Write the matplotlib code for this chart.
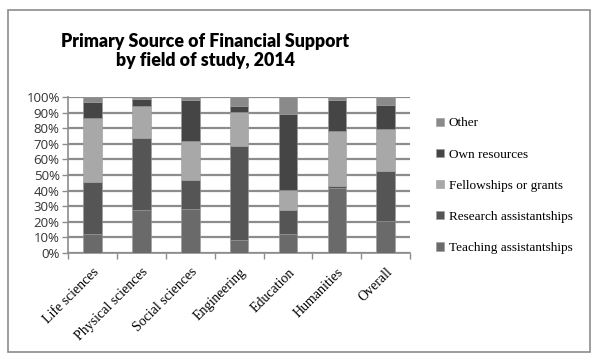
import matplotlib.pyplot as plt
import numpy as np
from matplotlib.patches import Rectangle

fields = ['Life sciences', 'Physical sciences', 'Social sciences', 'Engineering',
          'Education', 'Humanities', 'Overall']
series = ['Teaching assistantships', 'Research assistantships',
          'Fellowships or grants', 'Own resources', 'Other']

# shares in percent
teaching = [12.4, 27.8, 28.4, 8.5, 12.4, 41.5, 20.3]
research = [33.1, 46.1, 18.2, 60.3, 15.4, 1.5, 32.5]
fellowships = [40.8, 20.1, 25.0, 21.8, 12.8, 35.0, 26.7]
own = [10.7, 5.0, 26.3, 3.8, 48.7, 19.9, 15.5]
other = [3.0, 1.0, 2.1, 5.6, 10.7, 2.1, 5.0]

colors = ['#6a6a6a', '#555555', '#a8a8a8', '#454545', '#8a8a8a']
data = [teaching, research, fellowships, own, other]

fig = plt.figure(figsize=(5.97, 3.58), dpi=100)
fig.patches.append(Rectangle((8 / 597, 6 / 358), 582 / 597, 342 / 358,
                             transform=fig.transFigure, fill=False,
                             edgecolor='#8c8c8c', linewidth=1.2))
ax = fig.add_axes([0.114, 0.293, 0.573, 0.436])

x = np.arange(len(fields))
bottom = np.zeros(len(fields))
for vals, col, name in zip(data, colors, series):
    ax.bar(x, vals, 0.38, bottom=bottom, color=col, edgecolor='#9a9a9a',
           linewidth=0.4, label=name, zorder=3)
    bottom += np.array(vals)

ax.set_xlim(-0.5, len(fields) - 0.5)
ax.set_ylim(0, 100)
ax.set_yticks(np.arange(0, 101, 10))
ax.set_yticklabels([str(v) + '%' for v in range(0, 101, 10)],
                   family='Open Sans', fontsize=9.5, color='#333333')
ax.yaxis.grid(True, color='#8c8c8c', linewidth=1.6, zorder=0)
ax.set_xticks(x)
ax.set_xticklabels(fields, rotation=45, ha='right', rotation_mode='anchor',
                   family='Liberation Serif', fontsize=10)
ax.set_xticks(np.arange(-0.5, len(fields)), minor=True)
ax.tick_params(axis='x', which='major', length=0, pad=9)
ax.tick_params(axis='x', which='minor', length=4, color='#8c8c8c', width=1)
ax.tick_params(axis='y', length=4, color='#8c8c8c', width=1, pad=2)
for s in ['top', 'right']:
    ax.spines[s].set_visible(False)
for s in ['left', 'bottom']:
    ax.spines[s].set_color('#8c8c8c')
    ax.spines[s].set_linewidth(1.2)

fig.text(0.344, 0.858, 'Primary Source of Financial Support\nby field of study, 2014',
         ha='center', va='center', fontsize=12.8, fontweight='heavy',
         family='Lato', linespacing=1.15)

h, l = ax.get_legend_handles_labels()
leg = fig.legend(h[::-1], l[::-1], loc='upper left', bbox_to_anchor=(0.71, 0.705),
                 frameon=False, prop={'family': 'Liberation Serif', 'size': 9.5},
                 handlelength=0.6, handleheight=0.6, handletextpad=0.4,
                 labelspacing=1.45)

fig.savefig('out.png', dpi=100)
